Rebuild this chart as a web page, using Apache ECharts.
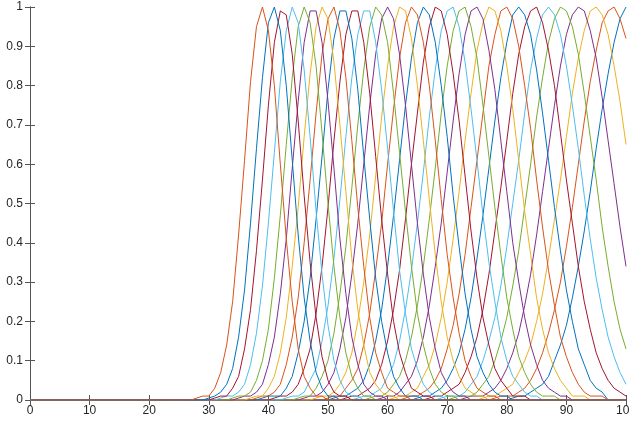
<!DOCTYPE html>
<html><head><meta charset="utf-8">
<script src="https://cdn.jsdelivr.net/npm/echarts/dist/echarts.min.js"></script>
<style>html,body{margin:0;padding:0;background:#fff;overflow:hidden;width:629px;height:421px}#c{position:absolute;left:0;top:0;width:629px;height:421px}</style>
</head><body><div id="c"></div>
<script>
// Tick values
const xTicks = [0,10,20,30,40,50,60,70,80,90,100];
const yTicks = [0,0.1,0.2,0.3,0.4,0.5,0.6,0.7,0.8,0.9,1];
// MATLAB default line colour order (plotting order: rightmost curve first)
const lineColors = ['#0072BD','#D95319','#EDB120','#7E2F8E','#77AC30','#4DBEEE','#A2142F'];
// First x (integer sample) of each curve's non-zero part, curve 0 = leftmost peak
const curveStart = [28,30,31,32,34,35,37,38,39,41,43,45,46,48,50,51,53,55,57,59,61,63,65,67,69,71,73,76,78,81];
// Values at consecutive integer x starting at curveStart[k]; zero elsewhere
const curve00 = [0.005,0.01,0.01,0.03,0.07,0.14,0.25,0.42,0.61,0.81,0.95,1.00,0.94,0.80,0.60,0.41,0.25,0.13,0.06,0.03,0.01,0.01];
const curve01 = [0.005,0.01,0.02,0.04,0.08,0.16,0.28,0.45,0.64,0.82,0.96,1.00,0.94,0.80,0.61,0.42,0.26,0.15,0.07,0.03,0.01,0.01];
const curve02 = [0.005,0.01,0.01,0.03,0.06,0.13,0.23,0.38,0.56,0.75,0.91,0.99,0.98,0.88,0.71,0.52,0.35,0.21,0.11,0.05,0.02,0.01,0.01];
const curve03 = [0.005,0.01,0.01,0.02,0.04,0.09,0.17,0.29,0.45,0.63,0.81,0.94,1.00,0.96,0.84,0.67,0.48,0.32,0.19,0.10,0.05,0.02,0.01,0.01];
const curve04 = [0.005,0.01,0.01,0.02,0.05,0.10,0.18,0.31,0.47,0.65,0.82,0.95,1.00,0.96,0.85,0.68,0.50,0.34,0.21,0.12,0.06,0.03,0.01,0.01];
const curve05 = [0.005,0.01,0.01,0.02,0.04,0.09,0.16,0.27,0.41,0.59,0.76,0.91,0.99,0.99,0.91,0.76,0.59,0.41,0.27,0.16,0.09,0.04,0.02,0.01,0.01];
const curve06 = [0.005,0.01,0.01,0.03,0.06,0.12,0.21,0.34,0.49,0.67,0.83,0.95,1.00,0.97,0.86,0.70,0.53,0.36,0.23,0.14,0.07,0.04,0.02,0.01,0.01];
const curve07 = [0.005,0.01,0.01,0.02,0.04,0.09,0.16,0.26,0.40,0.56,0.73,0.88,0.97,1.00,0.94,0.82,0.66,0.49,0.34,0.21,0.12,0.07,0.03,0.02,0.01,0.01];
const curve08 = [0.005,0.01,0.01,0.01,0.03,0.06,0.12,0.20,0.31,0.46,0.62,0.79,0.92,0.99,0.99,0.92,0.79,0.62,0.46,0.31,0.20,0.12,0.06,0.03,0.01,0.01,0.01];
const curve09 = [0.005,0.01,0.01,0.02,0.04,0.08,0.13,0.22,0.34,0.49,0.66,0.81,0.93,0.99,0.99,0.91,0.78,0.62,0.46,0.32,0.20,0.12,0.07,0.03,0.02,0.01,0.01];
const curve10 = [0.005,0.01,0.01,0.02,0.05,0.08,0.15,0.24,0.36,0.51,0.67,0.82,0.93,0.99,0.99,0.91,0.79,0.64,0.48,0.33,0.22,0.13,0.08,0.04,0.02,0.01,0.01];
const curve11 = [0.005,0.01,0.01,0.03,0.06,0.10,0.17,0.27,0.39,0.54,0.70,0.84,0.95,1.00,0.98,0.91,0.78,0.63,0.48,0.34,0.22,0.14,0.08,0.04,0.02,0.01,0.01];
const curve12 = [0.005,0.01,0.01,0.02,0.04,0.07,0.13,0.21,0.32,0.45,0.60,0.75,0.88,0.97,1.00,0.97,0.88,0.75,0.60,0.45,0.32,0.21,0.13,0.07,0.04,0.02,0.01,0.01];
const curve13 = [0.005,0.01,0.01,0.02,0.04,0.07,0.12,0.20,0.30,0.42,0.57,0.72,0.85,0.95,1.00,0.99,0.92,0.80,0.66,0.51,0.37,0.25,0.16,0.10,0.06,0.03,0.02,0.01,0.01];
const curve14 = [0.005,0.01,0.01,0.03,0.05,0.08,0.14,0.22,0.33,0.45,0.60,0.74,0.87,0.96,1.00,0.98,0.91,0.80,0.66,0.51,0.37,0.26,0.17,0.10,0.06,0.03,0.02,0.01,0.01];
const curve15 = [0.005,0.01,0.01,0.02,0.03,0.05,0.09,0.15,0.23,0.34,0.47,0.61,0.75,0.87,0.96,1.00,0.98,0.91,0.80,0.67,0.52,0.39,0.27,0.18,0.11,0.07,0.04,0.02,0.01,0.01];
const curve16 = [0.005,0.01,0.01,0.02,0.03,0.05,0.09,0.15,0.23,0.33,0.46,0.60,0.73,0.86,0.95,1.00,0.99,0.93,0.83,0.71,0.57,0.43,0.31,0.21,0.14,0.08,0.05,0.03,0.01,0.01,0.01];
const curve17 = [0.005,0.01,0.01,0.02,0.03,0.06,0.09,0.15,0.23,0.33,0.45,0.58,0.72,0.84,0.94,0.99,1.00,0.95,0.86,0.74,0.61,0.47,0.35,0.25,0.16,0.10,0.06,0.04,0.02,0.01,0.01];
const curve18 = [0.005,0.01,0.01,0.02,0.04,0.06,0.10,0.16,0.24,0.34,0.46,0.59,0.73,0.85,0.94,0.99,1.00,0.95,0.87,0.75,0.62,0.49,0.37,0.26,0.18,0.11,0.07,0.04,0.02,0.01,0.01,0.01];
const curve19 = [0.005,0.01,0.01,0.02,0.04,0.06,0.10,0.16,0.24,0.34,0.45,0.58,0.71,0.83,0.93,0.99,1.00,0.97,0.89,0.79,0.66,0.53,0.40,0.30,0.21,0.14,0.09,0.05,0.03,0.02,0.01,0.01];
const curve20 = [0.005,0.01,0.01,0.02,0.03,0.06,0.09,0.14,0.21,0.30,0.41,0.53,0.66,0.78,0.89,0.96,1.00,0.99,0.94,0.85,0.74,0.61,0.48,0.37,0.26,0.18,0.12,0.08,0.05,0.03,0.01,0.01,0.01];
const curve21 = [0.005,0.01,0.01,0.02,0.03,0.05,0.08,0.13,0.19,0.27,0.37,0.49,0.61,0.73,0.85,0.93,0.99,1.00,0.97,0.90,0.80,0.69,0.56,0.44,0.33,0.24,0.16,0.11,0.07,0.04,0.02,0.01,0.01,0.01];
const curve22 = [0.005,0.01,0.01,0.02,0.03,0.05,0.08,0.12,0.18,0.26,0.36,0.47,0.59,0.71,0.82,0.91,0.98,1.00,0.98,0.93,0.84,0.73,0.61,0.49,0.38,0.28,0.20,0.13,0.09,0.05,0.03,0.02];
const curve23 = [0.005,0.01,0.01,0.02,0.03,0.04,0.07,0.11,0.16,0.23,0.32,0.43,0.54,0.66,0.78,0.88,0.95,0.99,1.00,0.96,0.89,0.80,0.68,0.56,0.45,0.34,0.25,0.18,0.12,0.08,0.05,0.03,0.02,0.01];
const curve24 = [0.005,0.01,0.01,0.01,0.02,0.04,0.06,0.10,0.15,0.21,0.29,0.39,0.50,0.61,0.73,0.84,0.92,0.98,1.00,0.98,0.93,0.85,0.75,0.64,0.52,0.41,0.31,0.23,0.16,0.11,0.07,0.04];
const curve25 = [0.005,0.01,0.01,0.01,0.02,0.04,0.06,0.10,0.15,0.21,0.29,0.38,0.49,0.60,0.72,0.82,0.91,0.97,1.00,0.99,0.95,0.88,0.78,0.67,0.56,0.44,0.34,0.25,0.18,0.13];
const curve26 = [0.005,0.01,0.01,0.01,0.02,0.03,0.05,0.08,0.12,0.17,0.24,0.32,0.42,0.53,0.64,0.75,0.85,0.93,0.98,1.00,0.99,0.94,0.87,0.77,0.66,0.55,0.44,0.34];
const curve27 = [0.005,0.01,0.01,0.02,0.03,0.04,0.07,0.10,0.14,0.20,0.27,0.36,0.46,0.56,0.67,0.78,0.87,0.94,0.99,1.00,0.98,0.93,0.85,0.76,0.65];
const curve28 = [0.005,0.01,0.01,0.01,0.02,0.03,0.05,0.08,0.12,0.17,0.23,0.30,0.39,0.49,0.60,0.71,0.81,0.89,0.96,0.99,1.00,0.97,0.92];
const curve29 = [0.005,0.01,0.01,0.02,0.03,0.04,0.06,0.10,0.14,0.19,0.26,0.34,0.43,0.53,0.64,0.74,0.83,0.91,0.97,1.00];

const curves = [curve00,curve01,curve02,curve03,curve04,curve05,curve06,curve07,curve08,curve09,
  curve10,curve11,curve12,curve13,curve14,curve15,curve16,curve17,curve18,curve19,
  curve20,curve21,curve22,curve23,curve24,curve25,curve26,curve27,curve28,curve29];

function fullCurve(k) {
  const vals = curves[k], s = curveStart[k], out = [];
  for (let x = xTicks[0]; x <= xTicks[xTicks.length - 1]; x++) {
    const i = x - s;
    out.push([x, (i >= 0 && i < vals.length) ? vals[i] : 0]);
  }
  return out;
}

const series = [];
for (let k = curves.length - 1; k >= 0; k--) {
  series.push({
    type: 'line', data: fullCurve(k), showSymbol: false, symbol: 'none',
    lineStyle: { width: 1 }, animation: false, silent: true
  });
}

const font = { fontFamily: 'Liberation Sans, Helvetica, Arial, sans-serif', fontSize: 12, color: '#262626' };
const axLine = { show: true, lineStyle: { color: '#555', width: 1 } };
const tick = { show: true, inside: true, length: 5, lineStyle: { color: '#555', width: 1 } };

const chart = echarts.init(document.getElementById('c'), null, { renderer: 'canvas', width: 629, height: 421 });
chart.setOption({
  animation: false,
  color: lineColors,
  grid: { left: 30, right: 3, top: 7, bottom: 21, containLabel: false, outerBoundsMode: 'none' },
  xAxis: [
    { type: 'value', min: xTicks[0], max: xTicks[xTicks.length - 1], interval: 10, position: 'bottom',
      axisLine: axLine, axisTick: tick, splitLine: { show: false },
      axisLabel: Object.assign({ margin: 5, hideOverlap: false, showMaxLabel: true }, font) },
    { type: 'value', min: xTicks[0], max: xTicks[xTicks.length - 1], interval: 10, position: 'top',
      axisLine: axLine, axisTick: tick, splitLine: { show: false }, axisLabel: { show: false } }
  ],
  yAxis: [
    { type: 'value', min: yTicks[0], max: yTicks[yTicks.length - 1], interval: 0.1, position: 'left',
      axisLine: axLine, axisTick: tick, splitLine: { show: false },
      axisLabel: Object.assign({ margin: 7 }, font) },
    { type: 'value', min: yTicks[0], max: yTicks[yTicks.length - 1], interval: 0.1, position: 'right',
      axisLine: axLine, axisTick: tick, splitLine: { show: false }, axisLabel: { show: false } }
  ],
  series: series
});
</script>
</body></html>
